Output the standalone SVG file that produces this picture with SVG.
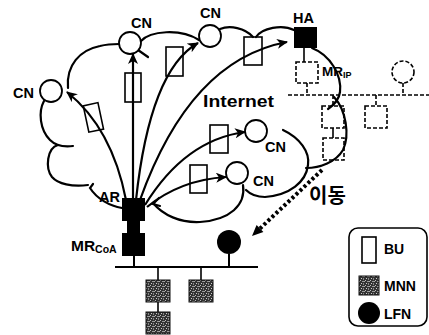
<svg xmlns="http://www.w3.org/2000/svg" width="429" height="335" viewBox="0 0 429 335">
<style>
.cl{fill:none;stroke:#000;stroke-width:2.2;stroke-linecap:round}
.ar{fill:none;stroke:#000;stroke-width:2.2;marker-end:url(#ah)}
.bu{fill:none;stroke:#000;stroke-width:1.6}
.cn{fill:#fff;stroke:#000;stroke-width:1.8}
.ds{fill:none;stroke:#000;stroke-width:1.6;stroke-dasharray:4 2}
.t{font-family:"Liberation Sans",Arial,sans-serif;font-weight:bold;fill:#000}
.mnn{fill:url(#tex);stroke:#111;stroke-width:1}
</style>
<defs>
<marker id="ah" markerUnits="userSpaceOnUse" markerWidth="12" markerHeight="10" refX="10" refY="5" orient="auto">
<path d="M0,0 L11,5 L0,10 L3,5 Z" fill="#000"/>
</marker>
<pattern id="tex" patternUnits="userSpaceOnUse" width="5" height="5">
<rect width="5" height="5" fill="#333"/>
<rect x="0" y="0" width="1" height="1" fill="#bbb"/>
<rect x="2" y="1" width="2" height="1" fill="#999"/>
<rect x="1" y="3" width="1" height="1" fill="#ccc"/>
<rect x="3" y="3" width="1" height="2" fill="#888"/>
<rect x="4" y="1" width="1" height="1" fill="#aaa"/>
</pattern>
</defs>

<g id="cloud">
<path class="cl" d="M122,208 C110,206 97,199 90,188 l3,-4"/>
<path class="cl" d="M58,145 C47,148 45,168 52,177 C58,184 72,187 88,185"/>
<path class="cl" d="M44,101 C38,112 40,130 50,140 C56,146 65,147 73,146"/>
<path class="cl" d="M68,88 C66,65 80,50 100,46 C108,44 114,44 119,44"/>
<path class="cl" d="M141,41 C150,31 180,28 199,40"/>
<path class="cl" d="M138,50 L148,57"/>
<path class="cl" d="M220,29 C230,25 245,28 253,37"/>
<path class="cl" d="M256,37 C262,28 282,24 294,30"/>
<path class="cl" d="M312,48 C330,55 342,75 340,92 C339,100 334,105 328,109"/>
<path class="cl" d="M334,97 C346,110 350,135 343,150 C336,162 320,168 306,168"/>
<path class="cl" d="M283,130 C300,138 310,152 308,165 C306,182 290,195 265,197 C256,197 250,194 246,190"/>
<path class="cl" d="M243,185 C246,205 230,220 200,222 C180,223 163,215 153,203"/>
<path class="cl" d="M159,198 L153,204 L160,206"/>
</g>

<g id="dashed-network">
<line x1="288" y1="95" x2="429" y2="95" class="ds" stroke-width="2"/>
<line x1="304" y1="48" x2="304" y2="62" stroke="#000" stroke-width="1.6"/>
<rect x="296" y="62" width="22" height="21" class="ds"/>
<line x1="307" y1="83" x2="307" y2="95" class="ds"/>
<circle cx="403" cy="72" r="11" class="ds"/>
<line x1="403" y1="83" x2="403" y2="95" class="ds"/>
<line x1="376" y1="95" x2="376" y2="106" class="ds"/>
<rect x="365" y="106" width="22" height="22" class="ds"/>
<line x1="333" y1="95" x2="333" y2="106" class="ds"/>
<rect x="322" y="106" width="22" height="22" class="ds"/>
<line x1="333" y1="128" x2="333" y2="138" stroke="#000" stroke-width="1.6"/>
<rect x="323" y="138" width="21" height="22" class="ds"/>
</g>

<g id="connectors">
<path class="ar" d="M126,200 Q112,128 67,92"/>
<path class="ar" d="M133,199 L133,54"/>
<path class="ar" d="M136,200 Q150,70 198,43"/>
<path class="ar" d="M140,200 Q190,60 287,42"/>
<path class="ar" d="M145,205 Q185,140 245,132"/>
<path class="ar" d="M147,207 Q180,180 226,177"/>
<line x1="322" y1="170" x2="260" y2="228.5" stroke="#000" stroke-width="4" stroke-dasharray="3 2.5"/>
<polygon points="252,236 263.4,232.1 256.6,224.9" fill="#000"/>
</g>

<g id="bu-messages">
<rect class="bu" x="86" y="104" width="15" height="27" transform="rotate(-12 93 118)"/>
<rect class="bu" x="125" y="73" width="16" height="29"/>
<rect class="bu" x="166" y="47" width="17" height="29"/>
<rect class="bu" x="244" y="37" width="18" height="28"/>
<rect class="bu" x="210" y="125" width="18" height="28"/>
<rect class="bu" x="190" y="165" width="17" height="28"/>
</g>

<g id="cn1"><circle class="cn" cx="51" cy="91" r="11"/><text class="t" x="13" y="98" font-size="14.5">CN</text></g>
<g id="cn2"><circle class="cn" cx="130" cy="43" r="11"/><text class="t" x="131" y="28" font-size="14.5">CN</text></g>
<g id="cn3"><circle class="cn" cx="210" cy="36" r="11"/><text class="t" x="200" y="18" font-size="14.5">CN</text></g>
<g id="cn4"><circle class="cn" cx="256" cy="131" r="11"/><text class="t" x="265" y="152" font-size="14.5">CN</text></g>
<g id="cn5"><circle class="cn" cx="237" cy="173" r="11"/><text class="t" x="253" y="186" font-size="14.5">CN</text></g>

<g id="ha"><rect x="294" y="27" width="23" height="21" fill="#000"/><text class="t" x="293" y="23" font-size="14.5">HA</text></g>
<g id="mrip-label"><text class="t" x="322" y="76" font-size="13.5">MR<tspan font-size="9" dy="2">IP</tspan></text></g>
<text id="internet" class="t" x="203" y="107" font-size="17" textLength="71" lengthAdjust="spacingAndGlyphs">Internet</text>

<g id="ar"><rect x="122" y="198" width="23" height="23" fill="#000"/><rect x="127" y="220" width="13" height="14" fill="#000"/><text class="t" x="99" y="202" font-size="14.5">AR</text></g>
<g id="mrcoa"><rect x="122" y="233" width="23" height="23" fill="#000"/><text class="t" x="71" y="251" font-size="15.5">MR<tspan font-size="10.5" dy="2">CoA</tspan></text></g>

<g id="subnet">
<line x1="134" y1="256" x2="134" y2="267" stroke="#000" stroke-width="2"/>
<line x1="115" y1="267" x2="258" y2="267" stroke="#000" stroke-width="2.2"/>
<line x1="158" y1="267" x2="158" y2="312" stroke="#000" stroke-width="1.6"/>
<line x1="201" y1="267" x2="201" y2="280" stroke="#000" stroke-width="1.6"/>
<line x1="229" y1="254" x2="229" y2="267" stroke="#000" stroke-width="2"/>
</g>
<g id="mnn1"><rect class="mnn" x="146" y="280" width="24" height="22"/></g>
<g id="mnn2"><rect class="mnn" x="189" y="280" width="24" height="22"/></g>
<g id="mnn3"><rect class="mnn" x="146" y="312" width="24" height="22"/></g>
<g id="lfn"><circle cx="229" cy="242" r="12" fill="#000"/></g>

<text id="move" x="309" y="203" font-size="20" font-weight="bold" font-family="'Noto Sans CJK KR',sans-serif">이동</text>

<g id="legend">
<rect x="349" y="228" width="78" height="98" rx="9" fill="none" stroke="#000" stroke-width="1.6"/>
<rect class="bu" x="362" y="237" width="14" height="26"/>
<text class="t" x="384" y="254" font-size="14">BU</text>
<rect class="mnn" x="359" y="276" width="20" height="19"/>
<text class="t" x="384" y="291" font-size="14">MNN</text>
<circle cx="369" cy="313" r="11" fill="#000"/>
<text class="t" x="384" y="319" font-size="14">LFN</text>
</g>
</svg>
